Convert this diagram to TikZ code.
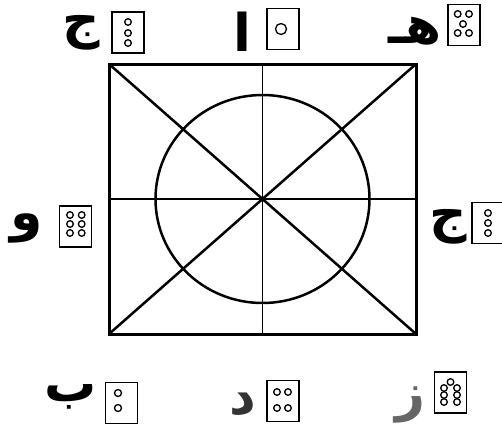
\documentclass[tikz,border=0pt]{standalone}
\usepackage{fontspec}
\TeXXeTstate=1
\newfontfamily\arabicfont[Script=Arabic]{DejaVu Sans}
\begin{document}
\begin{tikzpicture}[x=1pt,y=-1pt,
  frame/.style={line width=3pt},
  diag/.style={line width=2.5pt},
  ring/.style={line width=2.5pt},
  crossline/.style={line width=1.3pt},
  cell/.style={draw, line width=1.6pt, minimum width=32pt, minimum height=41pt, inner sep=0pt},
  dotc/.style={line width=1.3pt},
  letter/.style={font=\arabicfont\bfseries\fontsize{52}{52}\selectfont, inner sep=0pt}]
\useasboundingbox (0,0) rectangle (502,436);
% main figure
\coordinate (tl) at (109,64);
\coordinate (tr) at (416,64);
\coordinate (bl) at (109,334);
\coordinate (br) at (416,334);
\coordinate (c) at (262.5,199);
\coordinate (tm) at (262.5,64);
\coordinate (bm) at (262.5,334);
\coordinate (lm) at (109,199);
\coordinate (rm) at (416,199);
\draw[crossline] (tm) -- (bm);
\draw[crossline] (lm) -- (rm);
\draw[ring] (c) ellipse [x radius=107, y radius=104];
\draw[diag] (tl) -- (br);
\draw[diag] (tr) -- (bl);
\draw[frame] (tl) rectangle (br);
% top-left: jeem, 3 dots
\node[letter] (l1) at (81,33) {\beginR ج\endR};
\node[cell] (b1) at (128,32.5) {};
\foreach \y in {22,33,43} \draw[dotc] (128,\y) circle[radius=3.3];
% top-middle: alef, 1 dot
\node[letter] (l2) at (242,32) {\beginR ا\endR};
\node[cell] (b2) at (283,29) {};
\draw[dotc] (281,29) circle[radius=5.5];
% top-right: heh, 5 dots
\node[letter] (l3) at (415,31) {\beginR هـ\endR};
\node[cell] (b3) at (464,25) {};
\foreach \p in {(457.7,14),(469,14),(463,24),(457.7,33),(469,33)} \draw[dotc] \p circle[radius=3.3];
% left: waw, 6 dots
\node[letter] (l4) at (27,228) {\beginR و\endR};
\node[cell] (b4) at (75.5,226.5) {};
\foreach \x in {70,81.7} \foreach \y in {215,224,233} \draw[dotc] (\x,\y) circle[radius=3.3];
% right: jeem, 3 dots
\node[letter] (l5) at (448,227) {\beginR ج\endR};
\node[cell] (b5) at (488,223) {};
\foreach \y in {213,223,233} \draw[dotc] (488,\y) circle[radius=3.3];
% bottom-left: beh, 2 dots
\node[letter] (l6) at (71,397) {\beginR ب\endR};
\node[cell] (b6) at (121.5,403) {};
\foreach \y in {393,408} \draw[dotc] (118,\y) circle[radius=3.5];
% bottom-middle: dal, 4 dots
\node[letter, text=black!80] (l7) at (243,404) {\beginR د\endR};
\node[cell] (b7) at (283,401) {};
\foreach \x in {277,288} \foreach \y in {392,408} \draw[dotc] (\x,\y) circle[radius=3.3];
% bottom-right: zain, 7 dots
\node[letter, text=black!60] (l8) at (410,405) {\beginR ز\endR};
\node[cell] (b8) at (450.5,392.5) {};
\draw[dotc] (450.5,382) circle[radius=3.3];
\foreach \x in {444,457} \foreach \y in {388,395,402} \draw[dotc] (\x,\y) circle[radius=3.3];
\end{tikzpicture}
\end{document}
